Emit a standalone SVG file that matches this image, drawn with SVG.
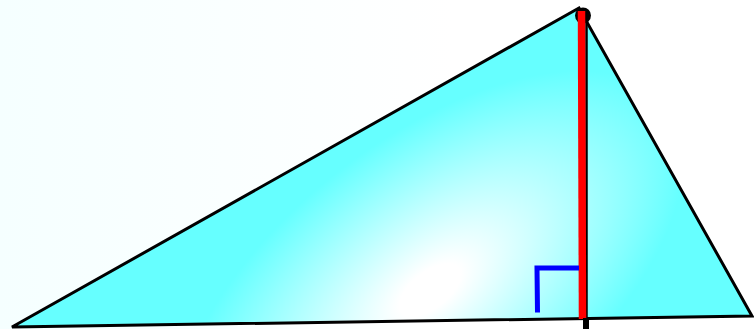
<svg xmlns="http://www.w3.org/2000/svg" width="754" height="329" viewBox="0 0 754 329">
  <defs>
    <linearGradient id="bg" x1="0" y1="0" x2="1" y2="0">
      <stop offset="0" stop-color="#f5ffff"/>
      <stop offset="0.6" stop-color="#ffffff"/>
    </linearGradient>
    <radialGradient id="fill" gradientUnits="userSpaceOnUse" cx="430" cy="290" r="300" gradientTransform="translate(430 290) rotate(-38) scale(1 0.5) translate(-430 -290)">
      <stop offset="0" stop-color="#ffffff"/>
      <stop offset="0.12" stop-color="#ffffff"/>
      <stop offset="1" stop-color="#66ffff"/>
    </radialGradient>
    <style>
      .edge { fill: none; stroke: #000; stroke-width: 3; stroke-linejoin: miter; }
    </style>
  </defs>
  <rect width="754" height="329" fill="url(#bg)"/>
  <g id="triangle">
    <polygon points="12,327 579,8 752,316" fill="url(#fill)"/>
    <polygon class="edge" points="12,327 579,8 752,316"/>
  </g>
  <g id="altitude">
    <line x1="586.5" y1="20" x2="586.5" y2="318" stroke="#000" stroke-width="2.5"/>
    <circle cx="583" cy="15.5" r="8" fill="#000"/>
    <line x1="581.5" y1="11" x2="582.5" y2="319" stroke="#ff0000" stroke-width="7.5"/>
    <rect x="583" y="318" width="6" height="11" fill="#000"/>
  </g>
  <g id="right-angle">
    <path d="M537.5 312.5 L537 268 L579 268" fill="none" stroke="#0000ff" stroke-width="5"/>
  </g>
</svg>
